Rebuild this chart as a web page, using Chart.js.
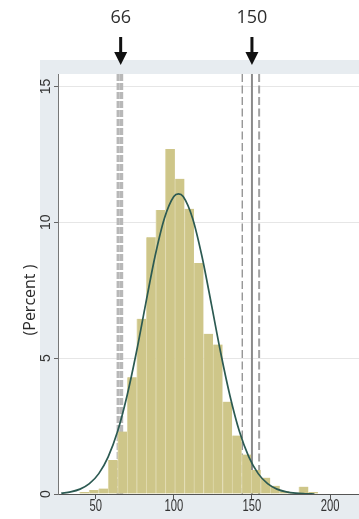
<!DOCTYPE html>
<html>
<head>
<meta charset="utf-8">
<style>
  html, body { margin: 0; padding: 0; background: #ffffff; }
  #wrap { width: 359px; height: 519px; position: relative; }
  canvas { display: block; }
</style>
<script src="https://cdn.jsdelivr.net/npm/chart.js@4.4.1/dist/chart.umd.min.js"></script>
</head>
<body>
<div id="wrap"><canvas id="chart" width="359" height="519"></canvas></div>
<script>
// Histogram bins (bin centres) and their share of observations, in percent
const binCenters = [42.75, 48.85, 54.95, 61.05, 67.15, 73.25, 79.35, 85.45, 91.55, 97.65,
                    103.75, 109.85, 115.95, 122.05, 128.15, 134.25, 140.35, 146.45, 152.55,
                    158.65, 164.75, 170.85, 176.95, 183.05, 189.15];
const percent = [0.07, 0.15, 0.2, 1.25, 2.3, 4.3, 6.45, 9.45, 10.45, 12.7,
                 11.6, 10.5, 8.5, 5.9, 5.5, 3.4, 2.15, 1.45, 0.88,
                 0.6, 0.3, 0.1, 0.05, 0.27, 0.07];

// Fitted normal density overlay (percent scale)
const curveX = [28, 34, 40, 46, 52, 58, 64, 70, 76, 82, 88, 94, 100, 103, 106, 112, 118,
                124, 130, 136, 142, 148, 154, 160, 166, 172, 178, 184, 190];
const curveY = [0.03, 0.08, 0.18, 0.38, 0.75, 1.37, 2.3, 3.6, 5.2, 7.0, 8.75, 10.15, 10.95, 11.05, 10.95, 10.15, 8.75,
                7.0, 5.2, 3.6, 2.3, 1.37, 0.75, 0.38, 0.18, 0.08, 0.03, 0.01, 0];

// Reference lines and cut-off markers
const bandLines = [64.4, 66.6];        // light dashed band around the lower cut-off
const dashedLines = [143.8, 154.6];    // dashed limits around the upper cut-off
const solidLines = [150];
const markerValues = [66, 150];
const markerLabels = ['66', '150'];

// Axis ticks
const xTicks = [50, 100, 150, 200];
const yTicks = [0, 5, 10, 15];
const xTickLabels = ['50', '100', '150', '200'];
const yTickLabels = ['0', '5', '10', '15'];
const yTitle = '(Percent )';

const PANEL = '#e7ecf0';
const TEXT = '#333333';

const decor = {
  id: 'decor',
  beforeDraw(chart) {
    const { ctx, chartArea: a } = chart;
    ctx.save();
    ctx.fillStyle = '#ffffff';
    ctx.fillRect(0, 0, chart.width, chart.height);
    ctx.fillStyle = PANEL;
    ctx.fillRect(40, 60, chart.width - 40, chart.height - 60);
    ctx.fillStyle = '#ffffff';
    ctx.fillRect(a.left, a.top, a.right - a.left, a.bottom - a.top);
    ctx.restore();
  },
  beforeDatasetsDraw(chart) {
    const { ctx, chartArea: a, scales: { x } } = chart;
    ctx.save();
    ctx.beginPath();
    ctx.rect(a.left, a.top, a.right - a.left, a.bottom - a.top);
    ctx.clip();
    const vline = (v, color, width, dash) => {
      const px = x.getPixelForValue(v);
      ctx.strokeStyle = color;
      ctx.lineWidth = width;
      ctx.setLineDash(dash);
      ctx.beginPath();
      ctx.moveTo(px, a.top);
      ctx.lineTo(px, a.bottom);
      ctx.stroke();
    };
    bandLines.forEach(v => vline(v, '#b8b8b8', 3.2, [7, 2]));
    dashedLines.forEach((v, i) => vline(v, i === 0 ? '#8e8e8e' : '#a2a2a2', i === 0 ? 1.3 : 2, [8, 3.5]));
    solidLines.forEach(v => vline(v, '#8a8a8a', 2, []));
    ctx.restore();
  },
  afterDraw(chart) {
    const { ctx, scales: { x, y } } = chart;
    ctx.save();
    ctx.fillStyle = TEXT;

    // y tick labels, rotated
    ctx.font = '14px "Liberation Sans", Arial, sans-serif';
    ctx.textAlign = 'center';
    ctx.textBaseline = 'middle';
    yTicks.forEach((v, i) => {
      ctx.save();
      ctx.translate(46.5, y.getPixelForValue(v));
      ctx.rotate(-Math.PI / 2);
      ctx.fillText(yTickLabels[i], 0, 0);
      ctx.restore();
    });

    // x tick labels, condensed
    ctx.font = '17px "Liberation Sans", Arial, sans-serif';
    xTicks.forEach((v, i) => {
      ctx.save();
      ctx.translate(x.getPixelForValue(v), 506);
      ctx.scale(0.66, 1);
      ctx.fillText(xTickLabels[i], 0, 0);
      ctx.restore();
    });

    // y axis title
    ctx.font = '16px "Open Sans", sans-serif';
    ctx.fillStyle = '#2a2a2a';
    ctx.save();
    ctx.translate(30, 300);
    ctx.rotate(-Math.PI / 2);
    ctx.fillText(yTitle, 0, 0);
    ctx.restore();

    // cut-off markers: value label and downward arrow
    markerValues.forEach((v, i) => {
      const px = x.getPixelForValue(v);
      ctx.fillStyle = '#2e2e2e';
      ctx.font = '18px "Open Sans", sans-serif';
      ctx.fillText(markerLabels[i], px, 18);
      ctx.fillStyle = '#111111';
      ctx.fillRect(px - 1.5, 37, 3, 17);
      ctx.beginPath();
      ctx.moveTo(px - 6.5, 52);
      ctx.lineTo(px + 6.5, 52);
      ctx.lineTo(px, 65);
      ctx.closePath();
      ctx.fill();
    });
    ctx.restore();
  }
};

new Chart(document.getElementById('chart'), {
  data: {
    datasets: [
      {
        type: 'line',
        order: 1,
        data: curveX.map((v, i) => ({ x: v, y: curveY[i] })),
        borderColor: '#2c5a52',
        borderWidth: 1.7,
        pointRadius: 0,
        fill: false,
        cubicInterpolationMode: 'monotone'
      },
      {
        type: 'bar',
        order: 2,
        data: binCenters.map((v, i) => ({ x: v, y: percent[i] })),
        backgroundColor: '#cec689',
        borderColor: '#e0daae',
        borderWidth: { left: 1, right: 0, top: 0, bottom: 0 },
        borderSkipped: false,
        barPercentage: 1,
        categoryPercentage: 1,
        grouped: false
      }
    ]
  },
  options: {
    responsive: false,
    animation: false,
    events: [],
    layout: { padding: { top: 74, left: 0, right: 0, bottom: 0 } },
    plugins: { legend: { display: false }, tooltip: { enabled: false } },
    scales: {
      x: {
        type: 'linear',
        min: 25.9,
        max: 218.5,
        offset: false,
        afterBuildTicks: s => { s.ticks = xTicks.map(v => ({ value: v })); },
        afterFit: s => { s.height = 25; },
        ticks: { display: false },
        grid: { offset: false, drawOnChartArea: false, tickLength: 5, tickColor: '#555555', tickWidth: 1 },
        border: { display: true, color: '#555555', width: 1 }
      },
      y: {
        type: 'linear',
        min: 0,
        max: 15.46,
        afterBuildTicks: s => { s.ticks = yTicks.map(v => ({ value: v })); },
        afterFit: s => { s.width = 58; },
        ticks: { display: false },
        grid: {
          color: c => (c.tick && c.tick.value === 0) ? 'rgba(0,0,0,0)' : '#e6e6e6',
          lineWidth: 1,
          tickLength: 4,
          tickColor: '#666666'
        },
        border: { display: true, color: '#777777', width: 1 }
      }
    }
  },
  plugins: [decor]
});
</script>
</body>
</html>
